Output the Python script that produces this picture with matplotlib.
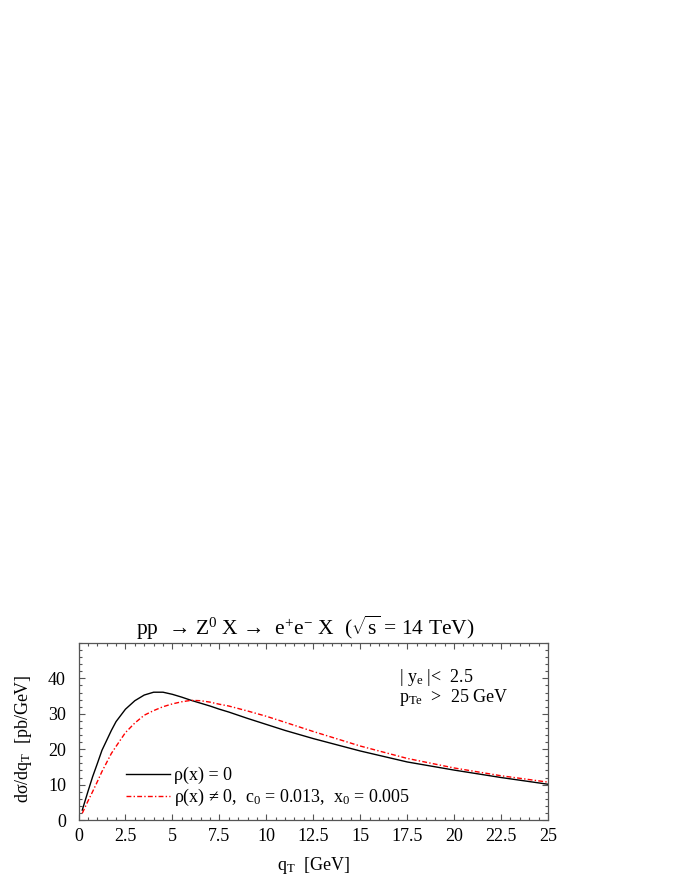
import numpy as np
import matplotlib
matplotlib.use("Agg")
import matplotlib.pyplot as plt
from matplotlib.ticker import MultipleLocator, FixedLocator

plt.rcParams['font.family'] = ['Liberation Serif', 'DejaVu Serif']
plt.rcParams['mathtext.fontset'] = 'custom'
plt.rcParams['mathtext.rm'] = 'Liberation Serif'
plt.rcParams['mathtext.it'] = 'Liberation Serif'
plt.rcParams['mathtext.bf'] = 'Liberation Serif:bold'
plt.rcParams['mathtext.sf'] = 'Liberation Serif'

# ---- data ----
qT = [0.2, 0.5, 0.75, 1.0, 1.25, 1.75, 2.0, 2.5, 3.0, 3.5, 4.0, 4.5, 5.0, 5.5,
      6.0, 6.5, 7.0, 7.5, 8.0, 9.0, 10.0, 11.0, 12.5, 15.0, 17.5, 20.0, 22.5, 25.0]
sigma_rho0 = [2.8, 8.0, 12.2, 15.9, 19.7, 25.3, 27.8, 31.3, 33.7, 35.3, 36.1,
              36.1, 35.5, 34.7, 33.8, 33.0, 32.2, 31.3, 30.5, 28.7, 27.0, 25.3,
              23.0, 19.5, 16.4, 14.1, 12.0, 10.1]
sigma_rho = [1.9, 5.3, 8.0, 10.8, 13.7, 18.8, 20.8, 24.7, 27.4, 29.6, 30.9,
             32.0, 32.8, 33.4, 33.8, 33.7, 33.3, 32.7, 32.2, 30.8, 29.3, 27.6,
             25.0, 20.9, 17.4, 14.7, 12.5, 10.7]
xticks = [0, 2.5, 5, 7.5, 10, 12.5, 15, 17.5, 20, 22.5, 25]
xticklabels = ['0', '2.5', '5', '7.5', '10', '12.5', '15', '17.5', '20', '22.5', '25']
yticks = [0, 10, 20, 30, 40]
label_rho0 = 'ρ(x) = 0'
label_rho = 'ρ(x) ≠ 0,  c$_0$ = 0.013,  x$_0$ = 0.005'

W, H = 680, 880
fig = plt.figure(figsize=(W / 100, H / 100), dpi=100)
L, R, T, B = 78.5, 548, 643, 820
ax = fig.add_axes([L / W, 1 - B / H, (R - L) / W, (B - T) / H])

ax.plot(qT, sigma_rho0, color='black', lw=1.0, label=label_rho0)
ax.plot(qT, sigma_rho, color='red', lw=1.0, linestyle=(0, (3.5, 1.6, 1.0, 1.6)),
        label=label_rho)

ax.set_xlim(0, 25)
ax.set_ylim(0, 50)
ax.xaxis.set_major_locator(FixedLocator(xticks))
ax.set_xticklabels(xticklabels)
ax.xaxis.set_minor_locator(MultipleLocator(0.5))
ax.yaxis.set_major_locator(FixedLocator(yticks))
ax.yaxis.set_minor_locator(MultipleLocator(2))

fc = '#555555'
for s in ax.spines.values():
    s.set_color(fc)
    s.set_linewidth(0.9)
ax.tick_params(which='both', direction='in', top=True, right=True, color=fc,
               width=0.8, labelsize=13, labelcolor='black')
ax.tick_params(which='major', length=4)
ax.tick_params(which='minor', length=2.3)
ax.tick_params(axis='x', pad=6)
ax.tick_params(axis='y', pad=9)

fig.text(305 / W, 1 - 628 / H,
         'pp  → Z$^0$ X →  e$^{+}$e$^{-}$ X  ($\\sqrt{\\mathrm{s}}$ = 14 TeV)',
         ha='center', va='center', fontsize=15.5)
fig.text(313 / W, 1 - 865 / H, r'q$_\mathrm{T}$  [GeV]', ha='center', va='center',
         fontsize=13)
fig.text(24 / W, 1 - 739 / H, 'dσ/dq$_\\mathrm{T}$  [pb/GeV]', ha='center',
         va='center', rotation=90, fontsize=13)

ax.text((398.7 - L) / (R - L), (B - 678) / (B - T), r'| y$_\mathrm{e}$ |<  2.5',
        transform=ax.transAxes, ha='left', va='center', fontsize=13)
ax.text((398.7 - L) / (R - L), (B - 698) / (B - T), r'p$_\mathrm{Te}$  >  25 GeV',
        transform=ax.transAxes, ha='left', va='center', fontsize=13)

ax.legend(loc='upper left', bbox_to_anchor=((126.2 - L) / (R - L), (B - 767) / (B - T)),
          frameon=False, fontsize=13, handlelength=2.4, handletextpad=0.25,
          labelspacing=0.15, borderpad=0, borderaxespad=0)

fig.savefig('out.png', dpi=100)
